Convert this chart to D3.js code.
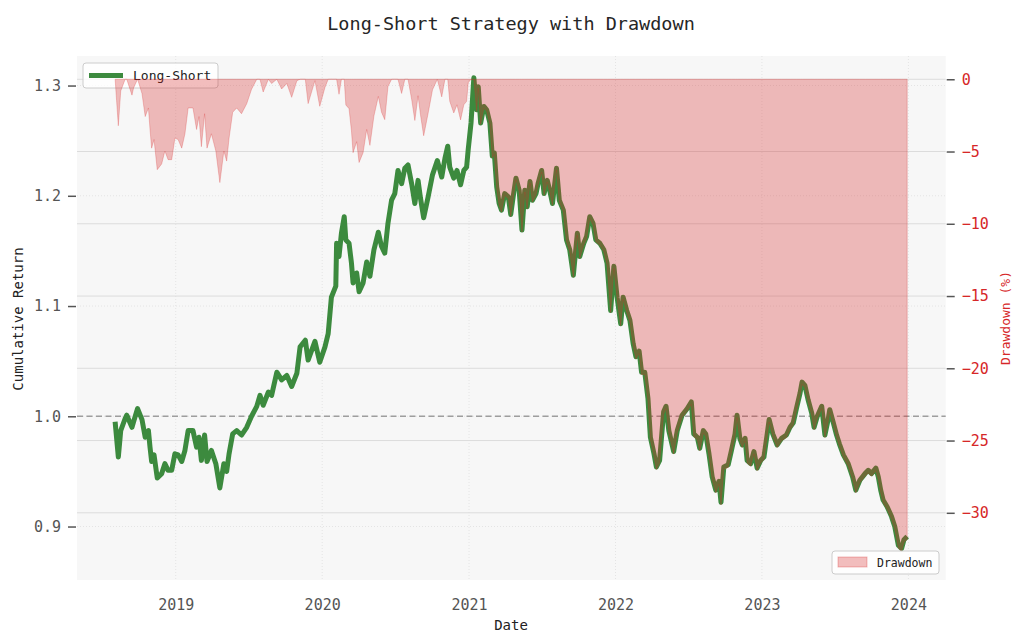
<!DOCTYPE html>
<html>
<head>
<meta charset="utf-8">
<script src="https://cdn.jsdelivr.net/npm/d3@7"></script>
<style>
  body { margin: 0; background: #fff; }
  text { font-family: 'DejaVu Sans Mono', monospace; }
</style>
</head>
<body>
<div id="chart"></div>
<script>
// values
const dates = [
  '2018-08-03','2018-08-11','2018-08-17','2018-08-28','2018-09-01','2018-09-14','2018-09-18','2018-09-28',
  '2018-10-09','2018-10-17','2018-10-25','2018-10-29','2018-11-02','2018-11-08','2018-11-16','2018-11-27',
  '2018-12-05','2018-12-13','2018-12-22','2018-12-30','2019-01-07','2019-01-16','2019-01-24','2019-02-01',
  '2019-02-13','2019-02-22','2019-02-28','2019-03-06','2019-03-14','2019-03-20','2019-03-31','2019-04-11',
  '2019-04-21','2019-05-01','2019-05-08','2019-05-14','2019-05-23','2019-06-02','2019-06-14','2019-06-27',
  '2019-07-09','2019-07-22','2019-07-30','2019-08-07','2019-08-20','2019-08-28','2019-09-10','2019-09-22',
  '2019-10-05','2019-10-17','2019-10-30','2019-11-07','2019-11-20','2019-11-27','2019-12-14','2019-12-26',
  '2020-01-08','2020-01-16','2020-01-24','2020-02-04','2020-02-06','2020-02-12','2020-02-18','2020-02-25',
  '2020-02-29','2020-03-08','2020-03-14','2020-03-18','2020-03-27','2020-04-02','2020-04-12','2020-04-21',
  '2020-04-29','2020-05-09','2020-05-20','2020-05-28','2020-06-05','2020-06-13','2020-06-22','2020-06-30',
  '2020-07-08','2020-07-17','2020-07-25','2020-08-02','2020-08-11','2020-08-19','2020-08-27','2020-09-02',
  '2020-09-10','2020-09-21','2020-10-02','2020-10-14','2020-10-25','2020-11-02','2020-11-09','2020-11-14',
  '2020-11-24','2020-12-02','2020-12-11','2020-12-19','2020-12-26','2020-12-30','2021-01-06','2021-01-13',
  '2021-01-20','2021-01-24','2021-01-30','2021-02-07','2021-02-14','2021-02-22','2021-02-28','2021-03-05',
  '2021-03-11','2021-03-17','2021-03-23','2021-03-31','2021-04-09','2021-04-15','2021-04-21','2021-04-28',
  '2021-05-06','2021-05-13','2021-05-20','2021-05-26','2021-06-02','2021-06-08','2021-06-17','2021-06-22',
  '2021-07-01','2021-07-07','2021-07-15','2021-07-21','2021-07-28','2021-08-07','2021-08-14','2021-08-24',
  '2021-09-01','2021-09-09','2021-09-18','2021-09-28','2021-10-04','2021-10-14','2021-10-21','2021-10-29',
  '2021-11-06','2021-11-13','2021-11-23','2021-12-03','2021-12-11','2021-12-20','2021-12-28','2022-01-05',
  '2022-01-14','2022-01-20','2022-01-29','2022-02-06','2022-02-14','2022-02-21','2022-03-01','2022-03-07',
  '2022-03-15','2022-03-23','2022-03-29','2022-04-07','2022-04-13','2022-04-21','2022-05-01','2022-05-07',
  '2022-05-14','2022-05-26','2022-06-04','2022-06-16','2022-06-29','2022-07-09','2022-07-15','2022-07-24',
  '2022-07-30','2022-08-08','2022-08-14','2022-08-22','2022-08-30','2022-09-08','2022-09-16','2022-09-21',
  '2022-09-28','2022-10-09','2022-10-17','2022-10-26','2022-10-31','2022-11-07','2022-11-13','2022-11-20',
  '2022-11-25','2022-12-04','2022-12-12','2022-12-20','2022-12-29','2023-01-06','2023-01-13','2023-01-19',
  '2023-01-28','2023-02-08','2023-02-19','2023-03-03','2023-03-12','2023-03-20','2023-03-28','2023-04-06',
  '2023-04-11','2023-04-18','2023-04-26','2023-05-05','2023-05-11','2023-05-19','2023-05-30','2023-06-07',
  '2023-06-15','2023-06-19','2023-06-28','2023-07-06','2023-07-13','2023-07-23','2023-08-04','2023-08-15',
  '2023-08-23','2023-09-02','2023-09-15','2023-09-23','2023-10-01','2023-10-12','2023-10-18','2023-10-24',
  '2023-10-30','2023-11-09','2023-11-20','2023-11-28','2023-12-07','2023-12-15','2023-12-21','2023-12-29'
];
const cumReturn = [
  0.995,0.963,0.987,0.998,1.001,0.990,0.995,1.007,
  0.997,0.981,0.987,0.972,0.959,0.965,0.944,0.948,
  0.957,0.951,0.951,0.966,0.965,0.959,0.969,0.987,
  0.987,0.972,0.981,0.960,0.983,0.959,0.969,0.957,
  0.935,0.957,0.950,0.966,0.984,0.987,0.983,0.990,
  1.000,1.009,1.019,1.010,1.022,1.019,1.040,1.033,
  1.037,1.027,1.039,1.063,1.069,1.051,1.068,1.049,
  1.063,1.075,1.108,1.118,1.157,1.145,1.166,1.181,
  1.160,1.157,1.139,1.121,1.130,1.113,1.121,1.140,
  1.127,1.151,1.167,1.154,1.148,1.175,1.196,1.202,
  1.223,1.211,1.225,1.228,1.211,1.193,1.214,1.198,
  1.180,1.199,1.219,1.232,1.217,1.234,1.245,1.226,
  1.216,1.223,1.210,1.223,1.226,1.242,1.266,1.307,
  1.278,1.299,1.266,1.281,1.278,1.266,1.236,1.239,
  1.208,1.193,1.187,1.202,1.199,1.183,1.199,1.216,
  1.205,1.169,1.205,1.190,1.213,1.196,1.202,1.211,
  1.223,1.202,1.214,1.205,1.193,1.225,1.196,1.187,
  1.160,1.151,1.128,1.166,1.145,1.157,1.163,1.181,
  1.175,1.160,1.157,1.151,1.139,1.096,1.136,1.108,
  1.084,1.108,1.096,1.087,1.066,1.054,1.059,1.040,
  1.040,1.016,0.981,0.966,0.954,0.960,1.004,1.009,
  0.987,0.968,0.987,1.001,1.007,1.013,0.984,0.981,
  0.971,0.987,0.984,0.966,0.945,0.933,0.941,0.922,
  0.954,0.956,0.969,0.984,1.001,0.980,0.974,0.980,
  0.960,0.957,0.968,0.953,0.960,0.963,0.981,0.997,
  0.984,0.974,0.980,0.983,0.990,0.994,1.007,1.021,
  1.031,1.028,1.015,1.003,0.990,1.000,1.009,0.983,
  0.997,1.006,0.994,0.983,0.975,0.965,0.957,0.945,
  0.933,0.942,0.948,0.951,0.948,0.953,0.945,0.933,
  0.924,0.918,0.909,0.900,0.883,0.880,0.888,0.891
];
const leftTicks = [0.9, 1.0, 1.1, 1.2, 1.3];
const rightTicks = [0, -5, -10, -15, -20, -25, -30];
const yearTicks = ['2019-01-01','2020-01-01','2021-01-01','2022-01-01','2023-01-01','2024-01-01'];

const chart = () => {
  const width = 1017;
  const height = 642;
  const left = 77, right = 945.7, top = 56, bottom = 580;
  const green = '#3c8a3e';
  const red = '#d62728';
  const parse = d3.timeParse('%Y-%m-%d');

  const data = dates.map((d, i) => ({ date: parse(d), value: cumReturn[i] }));
  // drawdown from running peak, in percent
  let peak = -Infinity;
  data.forEach(d => {
    peak = Math.max(peak, d.value);
    d.dd = (d.value / peak - 1) * 100;
  });

  const x = d3.scaleTime()
    .domain([parse('2018-04-30'), parse('2024-04-03')])
    .range([left, right]);
  const y = d3.scaleLinear().domain([0.8515, 1.3268]).range([bottom, top]);
  const y2 = d3.scaleLinear().domain([-34.65, 1.61]).range([bottom, top]);

  const svg = d3.select('#chart')
    .append('svg')
    .attr('width', width)
    .attr('height', height);

  svg.append('rect')
    .attr('x', left).attr('y', top)
    .attr('width', right - left).attr('height', bottom - top)
    .attr('fill', '#f7f7f7');

  // grids
  const grid = svg.append('g');
  grid.selectAll('.vg')
    .data(yearTicks.map(parse))
    .join('line')
    .attr('x1', d => x(d)).attr('x2', d => x(d))
    .attr('y1', top).attr('y2', bottom)
    .attr('stroke', '#e4e4e4')
    .attr('stroke-dasharray', '1,2');
  grid.selectAll('.hg')
    .data(leftTicks)
    .join('line')
    .attr('x1', left).attr('x2', right)
    .attr('y1', d => y(d)).attr('y2', d => y(d))
    .attr('stroke', '#e4e4e4')
    .attr('stroke-dasharray', '1,2');
  grid.selectAll('.rg')
    .data(rightTicks)
    .join('line')
    .attr('x1', left).attr('x2', right)
    .attr('y1', d => y2(d)).attr('y2', d => y2(d))
    .attr('stroke', '#dcdcdc')
    .attr('stroke-width', 1);

  // break-even line
  svg.append('line')
    .attr('x1', left).attr('x2', right)
    .attr('y1', y(1)).attr('y2', y(1))
    .attr('stroke', '#9e9e9e')
    .attr('stroke-width', 1.5)
    .attr('stroke-dasharray', '6,3.5');

  const line = d3.line()
    .x(d => x(d.date))
    .y(d => y(d.value));
  svg.append('path')
    .datum(data)
    .attr('d', line)
    .attr('fill', 'none')
    .attr('stroke', green)
    .attr('stroke-width', 5)
    .attr('stroke-linejoin', 'round');

  // legend for the line (drawn under the drawdown area like the original)
  const leg1 = svg.append('g').attr('transform', 'translate(83,63)');
  leg1.append('rect')
    .attr('width', 135).attr('height', 25).attr('rx', 3)
    .attr('fill', '#fff').attr('fill-opacity', 0.8)
    .attr('stroke', '#cccccc');
  leg1.append('line')
    .attr('x1', 6).attr('x2', 40).attr('y1', 12.5).attr('y2', 12.5)
    .attr('stroke', green).attr('stroke-width', 5);
  leg1.append('text')
    .attr('x', 50).attr('y', 17)
    .attr('font-size', 13)
    .attr('fill', '#222')
    .text('Long-Short');

  const area = d3.area()
    .x(d => x(d.date))
    .y0(y2(0))
    .y1(d => y2(d.dd));
  svg.append('path')
    .datum(data)
    .attr('d', area)
    .attr('fill', red)
    .attr('fill-opacity', 0.3)
    .attr('stroke', red)
    .attr('stroke-opacity', 0.25)
    .attr('stroke-width', 1);

  // axes
  const styleAxis = (g, color) => {
    g.select('.domain').remove();
    g.selectAll('.tick line').attr('stroke', '#555').attr('stroke-width', 1.5);
    g.selectAll('.tick text')
      .attr('fill', color)
      .attr('font-size', 15)
      .attr('font-family', "'DejaVu Sans Mono', monospace");
  };
  svg.append('g')
    .attr('transform', `translate(${left - 1},0)`)
    .call(d3.axisLeft(y).tickValues(leftTicks).tickFormat(d3.format('.1f')).tickSize(8).tickPadding(7))
    .call(g => styleAxis(g, '#555'));
  svg.append('g')
    .attr('transform', `translate(${right + 1},0)`)
    .call(d3.axisRight(y2).tickValues(rightTicks).tickFormat(d3.format('d')).tickSize(8).tickPadding(7))
    .call(g => styleAxis(g, red));
  svg.append('g')
    .attr('transform', `translate(0,${bottom})`)
    .call(d3.axisBottom(x).tickValues(yearTicks.map(parse)).tickFormat(d3.timeFormat('%Y')).tickSize(0).tickPadding(19))
    .call(g => styleAxis(g, '#555'));

  // titles
  svg.append('text')
    .attr('x', 511).attr('y', 30)
    .attr('text-anchor', 'middle')
    .attr('font-size', 18.5)
    .attr('fill', '#262626')
    .text('Long-Short Strategy with Drawdown');
  svg.append('text')
    .attr('transform', 'translate(23,319) rotate(-90)')
    .attr('text-anchor', 'middle')
    .attr('font-size', 14)
    .attr('fill', '#222')
    .text('Cumulative Return');
  svg.append('text')
    .attr('transform', 'translate(1010,318) rotate(-90)')
    .attr('text-anchor', 'middle')
    .attr('font-size', 13)
    .attr('fill', red)
    .text('Drawdown (%)');
  svg.append('text')
    .attr('x', 511).attr('y', 630)
    .attr('text-anchor', 'middle')
    .attr('font-size', 14)
    .attr('fill', '#222')
    .text('Date');

  // legend for the drawdown area
  const leg2 = svg.append('g').attr('transform', 'translate(832,551)');
  leg2.append('rect')
    .attr('width', 107).attr('height', 23).attr('rx', 3)
    .attr('fill', '#fff').attr('fill-opacity', 0.8)
    .attr('stroke', '#cccccc');
  leg2.append('rect')
    .attr('x', 6).attr('y', 6).attr('width', 29).attr('height', 10)
    .attr('fill', red).attr('fill-opacity', 0.3)
    .attr('stroke', red).attr('stroke-opacity', 0.3);
  leg2.append('text')
    .attr('x', 45).attr('y', 16)
    .attr('font-size', 11.5)
    .attr('fill', '#222')
    .text('Drawdown');
};

chart();
</script>
</body>
</html>
